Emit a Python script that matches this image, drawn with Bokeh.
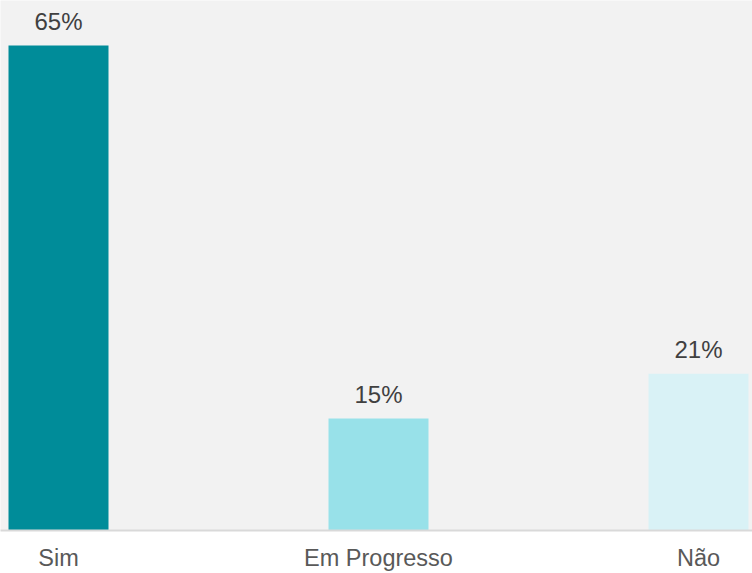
from bokeh.plotting import figure
from bokeh.models import ColumnDataSource, Range1d, FixedTicker
from bokeh.embed import file_html
from bokeh.resources import INLINE
from bokeh.core.properties import value

categories = ["Sim", "Em Progresso", "Não"]
percentages = [65, 15, 21]
labels = ["65%", "15%", "21%"]
colors = ["#008C99", "#98E1E9", "#D9F2F6"]

xs = list(range(len(categories)))
src = ColumnDataSource(dict(x=xs, top=percentages, label=labels, color=colors))

p = figure(width=752, height=573, output_backend="svg", toolbar_location=None,
           x_range=Range1d(-0.18125, 2.16875), y_range=Range1d(0, 71.02),
           min_border_left=0, min_border_right=0, min_border_top=0, min_border_bottom=42)

p.background_fill_color = "#F2F2F2"
p.border_fill_color = "white"
p.outline_line_color = None
p.grid.visible = False
p.yaxis.visible = False

p.vbar(x="x", top="top", bottom=0, width=0.3125, color="color", line_color=None, source=src)
p.text(x="x", y="top", text="label", source=src, text_align="center",
       text_baseline="alphabetic", y_offset=-24, text_font=value("Liberation Sans"),
       text_font_size="24px", text_color="#404040")

ax = p.xaxis[0]
ax.ticker = FixedTicker(ticks=xs)
ax.major_label_overrides = {i: c for i, c in zip(xs, categories)}
ax.major_tick_line_color = None
ax.minor_tick_line_color = None
ax.major_tick_out = 0
ax.major_tick_in = 0
ax.axis_line_color = "#D9D9D9"
ax.axis_line_width = 2
ax.major_label_standoff = 14
ax.major_label_text_font = "Liberation Sans"
ax.major_label_text_font_size = "23.5px"
ax.major_label_text_color = "#595959"

open("out.html", "w").write(file_html(p, INLINE))
